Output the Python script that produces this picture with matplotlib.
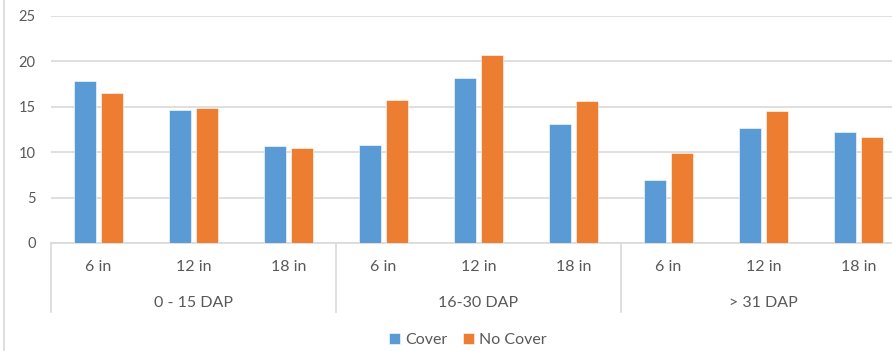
import matplotlib
matplotlib.use("Agg")
import matplotlib.pyplot as plt
import matplotlib.transforms as mtransforms
from matplotlib.lines import Line2D
import numpy as np

plt.rcParams['font.family'] = ['Lato', 'DejaVu Sans']

# data
groups = ['0 - 15 DAP', '16-30 DAP', '> 31 DAP']
depths = ['6 in', '12 in', '18 in']
cover = [17.8, 14.6, 10.7, 10.8, 18.2, 13.1, 6.9, 12.7, 12.2]
no_cover = [16.5, 14.8, 10.4, 15.7, 20.7, 15.6, 9.9, 14.5, 11.7]

blue = '#5B9BD5'
orange = '#ED7D31'
grey_txt = '#595959'
grid_c = '#D9D9D9'

fig = plt.figure(figsize=(8.92, 3.51), dpi=100)
ax = fig.add_axes([51/892, 108/351, 855/892, 227.3/351])

x = np.arange(len(cover))
w = 0.226
ax.bar(x - 0.14, cover, w, color=blue, edgecolor='white', linewidth=0.4, label='Cover', zorder=3)
ax.bar(x + 0.14, no_cover, w, color=orange, edgecolor='white', linewidth=0.4, label='No Cover', zorder=3)

ax.set_xlim(-0.5, len(cover) - 0.5)
ax.set_ylim(0, 25)
ax.set_yticks([0, 5, 10, 15, 20, 25])
ax.yaxis.grid(True, color=grid_c, linewidth=1.2, zorder=0)
ax.tick_params(axis='y', length=0, pad=11, labelsize=10.5, labelcolor=grey_txt)
ax.set_xticks([])
for s in ['top', 'right', 'left']:
    ax.spines[s].set_visible(False)
ax.spines['bottom'].set_color(grid_c)
ax.spines['bottom'].set_linewidth(1.2)

# two-level category axis
trans = mtransforms.blended_transform_factory(ax.transData, ax.transAxes)
labels = [d for g in groups for d in depths]
for i, lab in enumerate(labels):
    ax.text(i, -0.106, lab, transform=trans, ha='center', va='center',
            fontsize=11.5, color=grey_txt)
for j, g in enumerate(groups):
    ax.text(j * 3 + 1, -0.262, g, transform=trans, ha='center', va='center',
            fontsize=11.5, color=grey_txt)
for b in [-0.5, 2.5, 5.5, 8.5]:
    ax.plot([b, b], [0, -0.3036], transform=trans, color=grid_c, linewidth=1.2, clip_on=False)

# chart border on the left
fig.add_artist(Line2D([4/892, 4/892], [0, 1], transform=fig.transFigure, color=grid_c, linewidth=1.2))

fig.legend(loc='center', bbox_to_anchor=(468/892, 11/351), ncol=2, frameon=False,
           handlelength=0.7, handleheight=0.7, handletextpad=0.3, columnspacing=1.0,
           fontsize=11.5, labelcolor=grey_txt)

fig.savefig('out.png', dpi=100)
